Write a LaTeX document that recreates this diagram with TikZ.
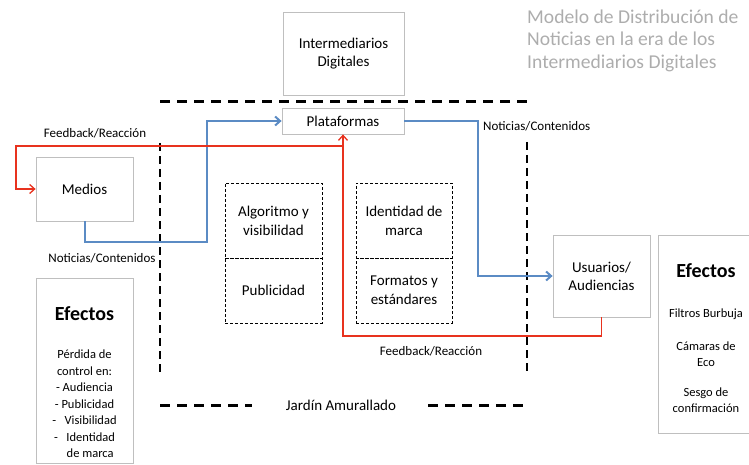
\documentclass[tikz,border=0pt]{standalone}
\usepackage{fontspec}
\setmainfont{Carlito}
\usetikzlibrary{arrows.meta,calc}
\definecolor{boxgray}{HTML}{BFBFBF}
\definecolor{lineblue}{HTML}{5B8BC4}
\definecolor{linered}{HTML}{E8321E}
\definecolor{titlegray}{HTML}{ADADAD}
\tikzset{
  sbox/.style={draw=boxgray,line width=0.8pt,fill=white,inner sep=2pt,align=center,font=\fontsize{15}{18}\selectfont},
  dbox/.style={draw=black,dashed,dash pattern=on 3pt off 2pt,line width=0.7pt,align=center,font=\fontsize{15}{19}\selectfont},
  wall/.style={line width=3pt,dash pattern=on 10pt off 7pt},
  vwall/.style={line width=2.6pt,dash pattern=on 8pt off 5pt},
  bluearrow/.style={draw=lineblue,line width=2pt,-{Straight Barb[length=5pt,width=9pt]}},
  redarrow/.style={draw=linered,line width=1.3pt,-{Straight Barb[length=5pt,width=9pt]}},
  lbl/.style={font=\fontsize{13}{15}\selectfont,inner sep=0pt},
  efhead/.style={font=\bfseries\fontsize{20}{24}\selectfont,inner sep=0pt},
  eftext/.style={font=\fontsize{12.5}{16.5}\selectfont,align=center,inner sep=0pt},
  ttl/.style={anchor=base west,text=titlegray,font=\fontsize{19.6}{22}\selectfont,inner sep=0pt},
}
\begin{document}
\begin{tikzpicture}[x=1pt,y=-1pt]
\useasboundingbox (0,0) rectangle (749,465);
% boxes
\node[sbox,minimum width=121pt,minimum height=83pt] (inter) at (343.5,53.5) {Intermediarios\\Digitales};
\node[sbox,minimum width=122pt,minimum height=26pt] (plat) at (343,121) {Plataformas};
\node[sbox,minimum width=97pt,minimum height=64pt] (medios) at (84.5,189) {Medios};
\node[sbox,minimum width=97pt,minimum height=82pt] (usu) at (601.5,276) {Usuarios/\\Audiencias};
\node[sbox,minimum width=97pt,minimum height=185pt] (efL) at (84.5,370.5) {};
\node[sbox,minimum width=100pt,minimum height=198pt] (efR) at (708,334) {};
% inner dashed boxes
\node[dbox,minimum width=97pt,minimum height=75pt] (alg) at (273.5,220.5) {Algoritmo y\\visibilidad};
\node[dbox,minimum width=97pt,minimum height=65pt] (pub) at (273.5,290.5) {Publicidad};
\node[dbox,minimum width=96pt,minimum height=75pt] (ide) at (404,220.5) {Identidad de\\marca};
\node[dbox,minimum width=96pt,minimum height=65pt] (fmt) at (404,290.5) {Formatos y\\estándares};
% walled garden
\coordinate (wtl) at (160,102);
\coordinate (wtr) at (527,102);
\coordinate (wl1) at (160,143);
\coordinate (wl2) at (160,375);
\coordinate (wr1) at (527,142);
\coordinate (wr2) at (527,375);
\coordinate (wb1) at (160,405);
\coordinate (wb2) at (252,405);
\coordinate (wb3) at (428,405);
\coordinate (wb4) at (527,405);
\draw[wall] (wtl) -- (wtr);
\draw[vwall] (wl1) -- (wl2);
\draw[vwall] (wr1) -- (wr2);
\draw[wall] (wb1) -- (wb2);
\draw[wall] (wb3) -- (wb4);
\node[font=\fontsize{15}{18}\selectfont] (jard) at (341,405) {Jardín Amurallado};
% blue flows
\coordinate (b1) at (207,242);
\coordinate (b2) at (478,276);
\draw[bluearrow] (medios.south) |- (b1) |- (plat.west);
\draw[bluearrow] (plat.east) -| (b2) -- (usu.west);
% red flows
\coordinate (r1) at (343,336);
\coordinate (r2) at (343,146);
\coordinate (r3) at (16,146);
\draw[redarrow] (usu.south) |- (r1) -- (plat.south);
\draw[redarrow] (r2) -- (r3) |- (medios.west);
% labels
\node[lbl] (fb1) at (95,133) {Feedback/Reacción};
\node[lbl] (nc1) at (102,258) {Noticias/Contenidos};
\node[lbl,anchor=west] (nc2) at (483,126) {Noticias/Contenidos};
\node[lbl] (fb2) at (431,351) {Feedback/Reacción};
% effects texts
\node[efhead] (efLh) at (84.5,314) {Efectos};
\node[eftext,anchor=north] (efLt) at (84.5,350) {Pérdida de\\control en:\\- Audiencia\\- Publicidad\\-\ \ \ Visibilidad\\-\ \ \ Identidad\\\ \ \ \ de marca};
\node[efhead] (efRh) at (706,271) {Efectos};
\node[eftext] (efR1) at (706,314) {Filtros Burbuja};
\node[eftext] (efR2) at (706,354) {Cámaras de\\Eco};
\node[eftext] (efR3) at (706,400) {Sesgo de\\confirmación};
% title
\node[ttl] (t1) at (527,23.5) {Modelo de Distribución de};
\node[ttl] (t2) at (527,46) {Noticias en la era de los};
\node[ttl] (t3) at (527,68.5) {Intermediarios Digitales};
\end{tikzpicture}
\end{document}
